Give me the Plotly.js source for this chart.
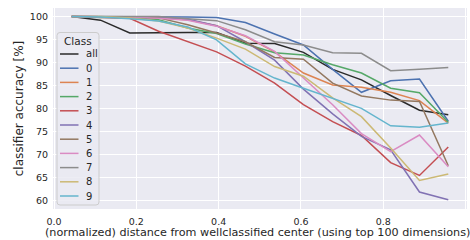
<!DOCTYPE html>
<html>
<head>
<meta charset="utf-8">
<script src="https://cdn.plot.ly/plotly-3.0.1.min.js"></script>
<style>html,body{margin:0;padding:0;background:#fff;}#chart{width:470px;height:240px;}</style>
</head>
<body>
<div id="chart"></div>
<script>
// Bin centers of normalized distance
const xs = [0.043, 0.113, 0.184, 0.254, 0.325, 0.395, 0.465, 0.536, 0.606, 0.677, 0.747, 0.818, 0.888, 0.958];

const classNames = ["all", "0", "1", "2", "3", "4", "5", "6", "7", "8", "9"];

const accAll = [100, 99.2, 96.4, 96.5, 96.5, 96.5, 94.2, 94.1, 92.2, 88.5, 86.2, 82.8, 79.6, 78.6];
const acc0   = [100, 100, 100, 100, 99.9, 99.8, 98.7, 96.2, 93.8, 88.5, 83.5, 86.0, 86.4, 77.2];
const acc1   = [100, 99.9, 99.8, 99.6, 99.3, 98.0, 95.7, 92.3, 87.7, 85.1, 84.6, 83.5, 81.7, 76.8];
const acc2   = [100, 99.8, 99.8, 99.3, 97.5, 96.3, 94.0, 92.1, 91.6, 89.5, 87.7, 84.4, 83.4, 77.0];
const acc3   = [100, 99.8, 99.6, 96.8, 94.5, 92.3, 89.2, 85.5, 80.8, 77.1, 74.1, 68.2, 65.4, 71.6];
const acc4   = [100, 100, 99.9, 99.8, 99.4, 98.0, 94.5, 90.5, 84.2, 78.8, 73.9, 71.0, 61.8, 60.1];
const acc5   = [100, 100, 99.9, 99.7, 98.2, 96.4, 94.5, 91.1, 90.7, 85.5, 82.7, 81.8, 81.5, 67.5];
const acc6   = [100, 100, 99.9, 99.6, 99.2, 97.9, 95.8, 92.4, 86.6, 80.8, 74.5, 70.6, 74.2, 67.3];
const acc7   = [100, 100, 100, 100, 99.5, 99.1, 97.1, 94.5, 93.8, 92.1, 92.0, 88.2, 88.5, 88.9];
const acc8   = [100, 100, 99.7, 99.0, 97.5, 95.3, 92.9, 89.1, 87.0, 82.3, 78.2, 71.4, 64.3, 65.7];
const acc9   = [100, 99.9, 99.5, 99.0, 97.7, 94.9, 89.7, 86.6, 84.4, 82.2, 80.0, 76.2, 75.9, 76.8];

const xTicks = [0.0, 0.2, 0.4, 0.6, 0.8, 1.0];
const yTicks = [60, 65, 70, 75, 80, 85, 90, 95, 100];
const legendTitle = "Class";
const xTitle = "(normalized) distance from wellclassified center (using top 100 dimensions)";
const yTitle = "classifier accuracy [%]";

const series = [accAll, acc0, acc1, acc2, acc3, acc4, acc5, acc6, acc7, acc8, acc9];
const colors = ["#2a2a2a", "#4C72B0", "#DD8452", "#55A868", "#C44E52", "#8172B3", "#937860", "#DA8BC3", "#8C8C8C", "#CCB974", "#64B5CD"];

const traces = series.map((ys, i) => ({
  type: "scatter",
  mode: "lines",
  x: xs,
  y: ys,
  name: classNames[i],
  line: {color: colors[i], width: 1.5},
  hoverinfo: "skip",
  showlegend: false
}));

// ---- layout geometry (pixels) ----
const W = 470, H = 240;
const M = {l: 53, r: 3, t: 8, b: 31};
const PW = W - M.l - M.r, PH = H - M.t - M.b;
const px = v => (v - M.l) / PW;          // pixel x -> paper x
const py = v => (M.t + PH - v) / PH;     // pixel y -> paper y

const txt = "#262626";

// custom legend (matplotlib-like compact box)
const box = {x0: 57, x1: 99, y0: 32.5, y1: 205, r: 3};
const shapes = [];
const annotations = [];
{
  const {x0, x1, y0, y1, r} = box;
  const X0 = px(x0), X1 = px(x1), Y0 = py(y0), Y1 = py(y1);
  const rx = r / PW, ry = r / PH;
  const path = `M ${X0 + rx},${Y0} L ${X1 - rx},${Y0} Q ${X1},${Y0} ${X1},${Y0 - ry} ` +
               `L ${X1},${Y1 + ry} Q ${X1},${Y1} ${X1 - rx},${Y1} L ${X0 + rx},${Y1} ` +
               `Q ${X0},${Y1} ${X0},${Y1 + ry} L ${X0},${Y0 - ry} Q ${X0},${Y0} ${X0 + rx},${Y0} Z`;
  shapes.push({type: "path", xref: "paper", yref: "paper", path: path,
    fillcolor: "rgba(234,234,242,0.85)", line: {color: "#cccccc", width: 1}, layer: "above"});
  annotations.push({xref: "paper", yref: "paper", x: px((x0 + x1) / 2), y: py(40.5),
    text: legendTitle, showarrow: false, xanchor: "center", yanchor: "middle",
    font: {size: 10.5, color: txt}});
  const rowY0 = 54, rowStep = 14.2;
  classNames.forEach((name, i) => {
    const yy = py(rowY0 + i * rowStep);
    shapes.push({type: "line", xref: "paper", yref: "paper", x0: px(60), x1: px(78.5), y0: yy, y1: yy,
      line: {color: colors[i], width: 1.5}, layer: "above"});
    annotations.push({xref: "paper", yref: "paper", x: px(84), y: yy, text: name, showarrow: false,
      xanchor: "left", yanchor: "middle", font: {size: 10, color: txt}});
  });
}
// x-axis title placed as annotation so it can be centred like the reference
annotations.push({xref: "paper", yref: "paper", x: px(257), y: py(232), text: xTitle,
  showarrow: false, xanchor: "center", yanchor: "middle", font: {size: 11.2, color: txt}});

const layout = {
  width: W, height: H,
  margin: {l: M.l, r: M.r, t: M.t, b: M.b, pad: 0},
  paper_bgcolor: "#ffffff",
  plot_bgcolor: "#EAEAF2",
  font: {family: "DejaVu Sans, sans-serif", size: 10, color: txt},
  showlegend: false,
  xaxis: {
    range: [-0.0025, 1.0035],
    tickvals: xTicks,
    ticktext: xTicks.map(v => v.toFixed(1)),
    showgrid: true, gridcolor: "#ffffff", gridwidth: 1,
    zeroline: false, showline: false, ticks: "",
    ticklabelstandoff: 5,
    tickfont: {size: 9.5, color: txt}
  },
  yaxis: {
    range: [58.1, 101.85],
    tickvals: yTicks,
    showgrid: true, gridcolor: "#ffffff", gridwidth: 1,
    zeroline: false, showline: false, ticks: "",
    ticklabelstandoff: 4,
    tickfont: {size: 9.5, color: txt},
    title: {text: yTitle, font: {size: 12, color: txt}, standoff: 3}
  },
  shapes: shapes,
  annotations: annotations
};

Plotly.newPlot("chart", traces, layout, {staticPlot: true, displayModeBar: false});
</script>
</body>
</html>
